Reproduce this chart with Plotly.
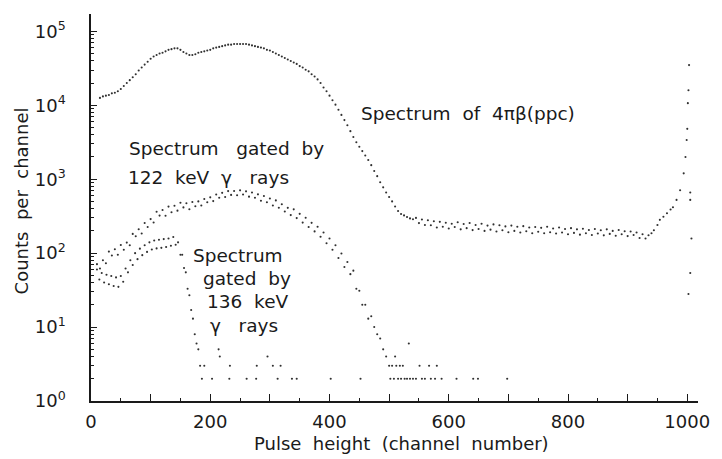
import plotly.graph_objects as go

# ---- 4πβ (ppc) spectrum: channel number and counts per channel ----
beta_ch = [
    15, 20, 25, 30, 35, 40, 45, 50, 55, 60, 65, 70, 75, 80, 85, 90, 95, 100,
    105, 110, 115, 120, 125, 130, 135, 140, 145, 150, 155, 160, 165, 170, 175,
    180, 185, 190, 195, 200, 205, 210, 215, 220, 225, 230, 235, 240, 245, 250,
    255, 260, 265, 270, 275, 280, 285, 290, 295, 300, 305, 310, 315, 320, 325,
    330, 335, 340, 345, 350, 355, 360, 365, 370, 375, 380, 385, 390, 395, 400,
    405, 410, 415, 420, 425, 430, 435, 440, 445, 450, 455, 460, 465, 470, 475,
    480, 485, 490, 495, 500, 505, 510, 515, 520, 525, 530, 535, 540,
    545, 550, 555, 560, 565, 570, 575, 580, 585, 590, 595, 600, 605, 610, 615,
    620, 625, 630, 635, 640, 645, 650, 655, 660, 665, 670, 675, 680, 685, 690,
    695, 700, 705, 710, 715, 720, 725, 730, 735, 740, 745, 750, 755, 760, 765,
    770, 775, 780, 785, 790, 795, 800, 805, 810, 815, 820, 825, 830, 835, 840,
    845, 850, 855, 860, 865, 870, 875, 880, 885, 890, 895, 900, 905, 910, 915,
    920, 925, 930, 935, 940, 944, 950, 954, 960, 966, 972, 976, 982, 988, 994,
    997, 999, 1000, 1001, 1002, 1003, 1004,
]
beta_counts = [
    12600, 13200, 13500, 13800, 14500, 14800, 15500, 16600, 18200, 20000,
    21900, 24000, 26300, 29500, 32400, 35500, 38900, 42700, 45700, 47900,
    50100, 51300, 53700, 56200, 57500, 58900, 58900, 56200, 52500, 50100,
    47900, 47900, 49000, 51300, 52500, 53700, 55000, 56200, 58900, 60300,
    61700, 63100, 64600, 66100, 66100, 67600, 67600, 67600, 67600, 67600,
    66100, 64600, 63100, 61700, 60300, 58900, 56200, 55000, 52500, 50100,
    47900, 45700, 43700, 41700, 39800, 38000, 36300, 33900, 32400, 30200,
    28800, 26300, 24500, 22400, 20000, 17400, 15500, 13500, 11700, 10200,
    8710, 7410, 6310, 5370, 4470, 3720, 3160, 2750, 2400, 2090, 1820, 1550,
    1290, 1100, 912, 776, 661, 575, 501, 427, 372, 339, 324, 309, 295, 288,
    300, 255, 285, 240, 278, 238, 270, 222, 265, 228, 258, 215, 250, 226, 262,
    210, 248, 218, 256, 205, 240, 212, 250, 200, 236, 208, 245, 196, 238, 204,
    230, 192, 236, 200, 228, 190, 232, 198, 222, 186, 226, 195, 220, 186, 228,
    192, 215, 184, 222, 190, 212, 180, 218, 188, 210, 178, 214, 186, 206, 176,
    212, 184, 204, 174, 210, 182, 200, 172, 206, 180, 198, 170, 196, 176, 190,
    160, 180, 158, 175, 186, 204, 240, 282, 310, 347, 390, 417, 525, 710, 1200,
    2000, 3400, 4800, 10700, 16000, 35000, 178000,
]

# ---- spectrum gated by 122 keV gamma rays ----
g122_ch = [
    10, 15, 20, 25, 30, 35, 40, 45, 50, 55, 60, 65, 70, 75, 80, 85, 90, 95,
    100, 105, 110, 115, 120, 125, 130, 135, 140, 145, 150, 155, 160, 165, 170,
    175, 180, 185, 190, 195, 200, 205, 210, 215, 220, 225, 230, 235, 240, 245,
    250, 255, 260, 265, 270, 275, 280, 285, 290, 295, 300, 305, 310, 315, 320,
    325, 330, 335, 340, 345, 350, 355, 360, 365, 370, 375, 380, 385, 390, 395,
    400, 405, 410, 415, 420, 425, 430, 435, 440, 445, 450, 455, 460, 465, 470,
    475, 480, 485, 490, 495, 500,
    502, 505, 508, 510, 512, 515, 518, 520, 523, 526, 530, 533, 535, 540, 545,
    551, 555, 560, 567, 570, 577, 580, 588, 613, 641, 649, 698,
    1005, 1005, 1007,
]
g122_counts = [
    71, 62, 80, 73, 105, 93, 113, 95, 129, 111, 139, 128, 182, 169, 211, 184,
    256, 226, 289, 260, 363, 322, 383, 320, 426, 358, 438, 376, 481, 416, 474,
    393, 492, 430, 501, 441, 541, 488, 569, 506, 621, 561, 654, 574, 691, 614,
    694, 608, 707, 621, 685, 581, 660, 561, 624, 511, 594, 488, 549, 441, 517,
    411, 459, 366, 410, 327, 391, 298, 340, 259, 301, 226, 257, 197, 228, 167,
    190, 136, 158, 111, 128, 86, 99, 65, 76, 52, 58, 33, 31, 20, 20, 13, 14,
    10, 8, 7, 5, 4, 3,
    2, 3, 2, 4, 3, 2, 3, 2, 3, 2, 2, 6, 2, 2, 2,
    3, 2, 2, 3, 2, 2, 3, 2, 2, 2, 2, 2,
    660, 525, 158,
]

# ---- spectrum gated by 136 keV gamma rays ----
g136_ch = [
    10, 14, 18, 22, 26, 30, 34, 38, 42, 46, 50, 54, 58, 62, 66, 70, 74, 78,
    82, 86, 90, 94, 98, 102, 106, 110, 114, 118, 122, 126, 130, 134, 138, 142,
    146, 150, 153, 156, 159, 162, 165, 168, 171, 174, 177, 180, 183,
    186, 190, 203, 214, 216, 232, 233, 261, 277, 278, 296, 305, 313, 318, 337,
    345, 402, 452,
    1002, 1005,
]
g136_counts = [
    60, 44, 54, 40, 51, 38, 49, 36, 47, 35, 49, 41, 62, 55, 80, 69, 100, 83,
    115, 94, 128, 104, 140, 112, 148, 116, 152, 118, 155, 121, 158, 126, 165,
    130, 140, 95, 95, 63, 55, 33, 27, 17, 13, 8, 6, 5, 3,
    2, 3, 2, 5, 4, 2, 3, 2, 2, 3, 4, 3, 2, 3, 2,
    2, 2, 2,
    28, 54,
]

# ---- axis ticks ----
x_labelled = list(range(0, 1001, 200))
x_hundreds = list(range(100, 1000, 200))
x_fifties = list(range(50, 1000, 100))
y_major = [1, 10, 100, 1000, 10000, 100000]
y_labels = ["10<sup>%d</sup>" % i for i in range(6)]
y_minor = [m * 10 ** d for d in range(5) for m in range(2, 10)]

INK = "#1a1a1a"
DOT = "#303030"
FONT = "DejaVu Sans"
X_RANGE = [0, 1018]

fig = go.Figure()
series = [
    (beta_ch, beta_counts, "x"),
    (g122_ch, g122_counts, "x"),
    (g136_ch, g136_counts, "x2"),
]
for xs, ys, xa in series:
    fig.add_trace(go.Scatter(
        x=xs, y=ys, mode="markers", xaxis=xa, yaxis="y",
        marker=dict(size=2.1, color=DOT, line=dict(width=0)),
        cliponaxis=False, showlegend=False, hoverinfo="skip",
    ))

# plot area in pixels: x 91..710, y 14..401
L, R, T, B = 91, 710, 14, 401
W, H = 722, 459


def px(xp):
    return (xp - L) / (R - L)


def py(yp):
    return (B - yp) / (B - T)


SP2 = "\u00a0\u00a0"
SP3 = "\u00a0\u00a0\u00a0"
labels = [
    ("Spectrum" + SP2 + "of" + SP2 + "4\u03c0\u03b2(ppc)", 364, 113),
    ("Spectrum" + SP3 + "gated" + SP2 + "by", 128, 148),
    ("122" + SP2 + "keV" + SP2 + "\u03b3" + SP3 + "rays", 127, 177),
    ("Spectrum", 193, 255),
    ("gated" + SP2 + "by", 203, 278),
    ("136" + SP2 + "keV", 207, 301),
    ("\u03b3" + SP3 + "rays", 210, 325),
]
annotations = []
for text, xp, yp in labels:
    annotations.append(dict(
        text=text, x=px(xp), y=py(yp), xref="paper", yref="paper",
        xanchor="left", yanchor="middle", showarrow=False,
        font=dict(family=FONT, size=18.5, color=INK),
    ))
annotations.append(dict(
    text="Counts" + SP2 + "per" + SP2 + "channel", x=px(20), y=py(201),
    xref="paper", yref="paper", xanchor="center", yanchor="middle",
    textangle=-90, showarrow=False, font=dict(family=FONT, size=18, color=INK),
))
annotations.append(dict(
    text="Pulse" + SP2 + "height" + SP2 + "(channel" + SP2 + "number)",
    x=px(408), y=py(443), xref="paper", yref="paper",
    xanchor="center", yanchor="middle", showarrow=False,
    font=dict(family=FONT, size=18, color=INK),
))

fig.update_layout(
    width=W, height=H,
    margin=dict(l=L, r=W - R, t=T, b=H - B),
    paper_bgcolor="white", plot_bgcolor="white",
    font=dict(family=FONT, size=18, color=INK),
    annotations=annotations,
    xaxis=dict(
        range=X_RANGE, showgrid=False, zeroline=False,
        showline=True, linecolor=INK, linewidth=1.5,
        tickvals=x_labelled,
        ticks="inside", ticklen=7, tickwidth=1.3, tickcolor=INK,
        ticklabelstandoff=4,
        tickfont=dict(family=FONT, size=18, color=INK),
        minor=dict(tickvals=x_hundreds, ticks="inside", ticklen=7,
                   tickwidth=1.3, tickcolor=INK, showgrid=False),
    ),
    # second bottom axis carries only the short 50-channel ticks
    xaxis2=dict(
        range=X_RANGE, overlaying="x", anchor="y", side="bottom",
        showgrid=False, zeroline=False, showline=False,
        tickvals=x_fifties, showticklabels=False,
        ticks="inside", ticklen=3.5, tickwidth=1.1, tickcolor=INK,
    ),
    yaxis=dict(
        type="log", range=[0, 5.235], showgrid=False, zeroline=False,
        showline=True, linecolor=INK, linewidth=1.5,
        tickvals=y_major, ticktext=y_labels,
        ticks="inside", ticklen=6, tickwidth=1.3, tickcolor=INK,
        ticklabelstandoff=20,
        tickfont=dict(family=FONT, size=18, color=INK),
        minor=dict(tickvals=y_minor, ticks="inside", ticklen=3.5,
                   tickwidth=1.0, tickcolor=INK, showgrid=False),
    ),
)

fig.write_html("out.html")
